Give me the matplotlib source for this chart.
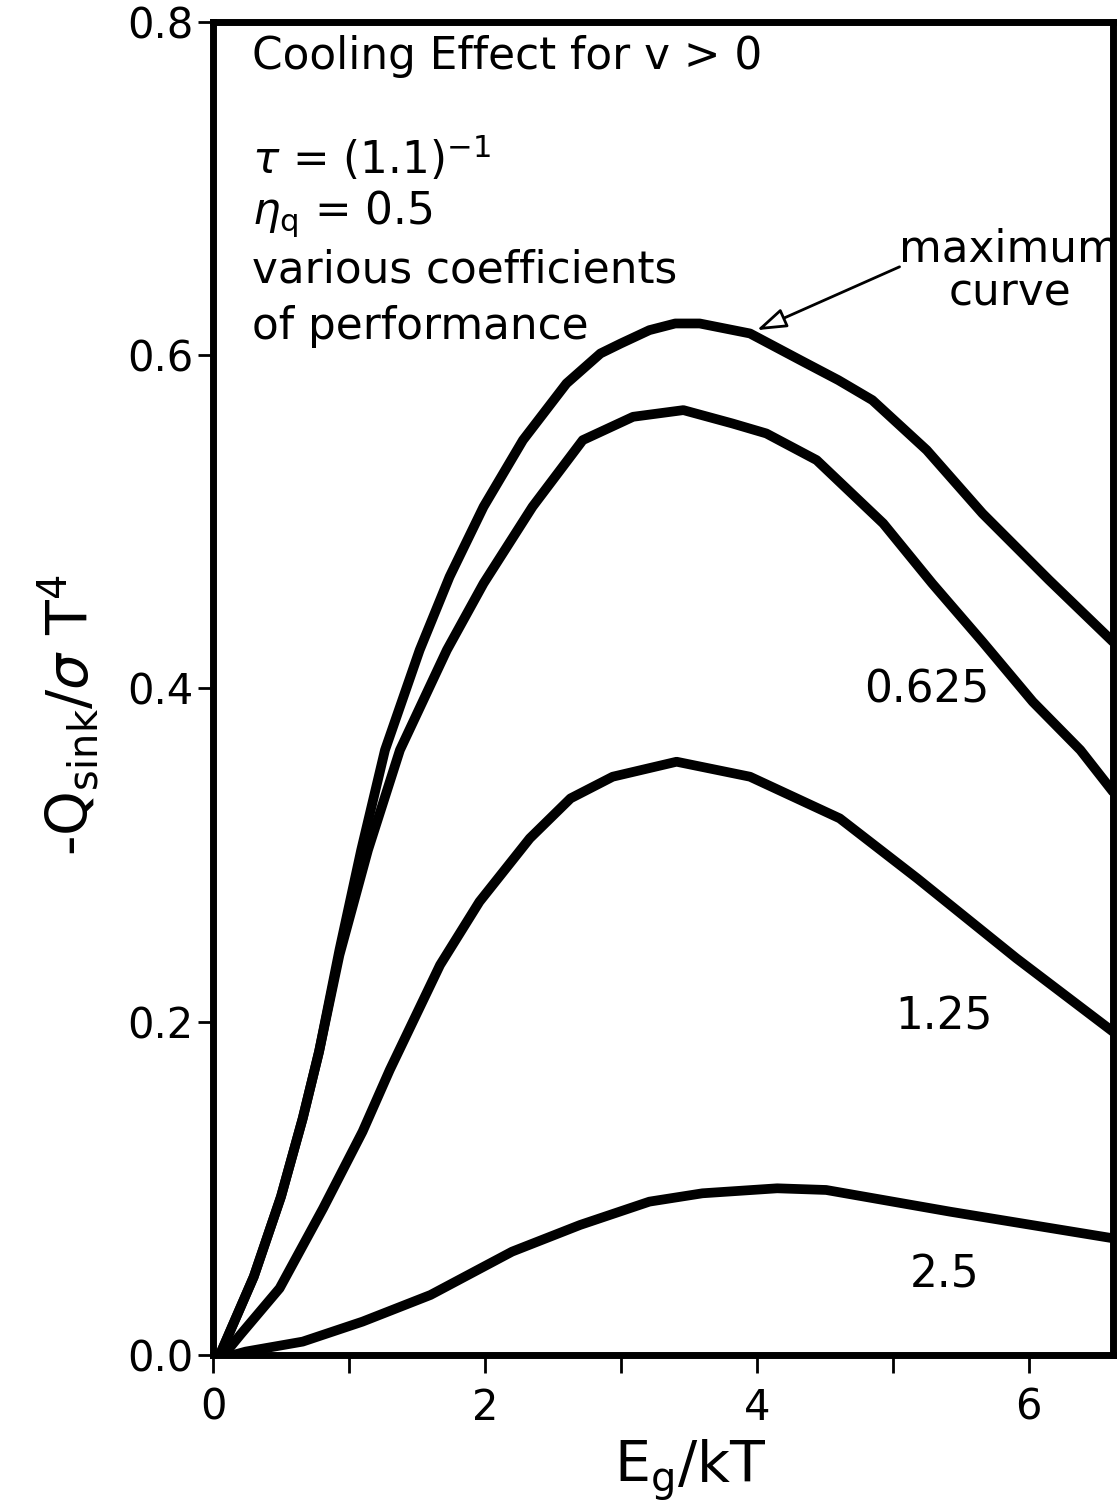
import numpy as np
import matplotlib.pyplot as plt

plt.rcParams['font.family'] = ['DejaVu Sans']
plt.rcParams['mathtext.fontset'] = 'dejavusans'

# curves: (Eg/kT, -Qsink/sigma T^4)
max_x = [0.05, 0.3, 0.5, 0.66, 0.78, 0.93, 1.09, 1.265, 1.52, 1.74, 1.99, 2.28, 2.6,
         2.85, 3.0, 3.21, 3.4, 3.58, 3.95, 4.32, 4.6, 4.85, 5.25, 5.66, 6.15, 6.62]
max_y = [0.0, 0.047, 0.095, 0.142, 0.182, 0.243, 0.303, 0.363, 0.423, 0.467, 0.509, 0.549, 0.583,
         0.601, 0.607, 0.615, 0.619, 0.619, 0.613, 0.597, 0.585, 0.573, 0.543, 0.505, 0.465, 0.428]

c0625_x = [0.05, 0.3, 0.5, 0.66, 0.78, 0.93, 1.14, 1.375, 1.72, 1.99, 2.35, 2.72, 3.09,
           3.46, 3.82, 4.07, 4.44, 4.93, 5.29, 5.66, 6.03, 6.38, 6.62]
c0625_y = [0.0, 0.047, 0.095, 0.142, 0.182, 0.24, 0.303, 0.363, 0.423, 0.463, 0.509, 0.549, 0.563,
           0.567, 0.559, 0.553, 0.537, 0.499, 0.463, 0.428, 0.392, 0.363, 0.338]

c125_x = [0.08, 0.2, 0.49, 0.81, 1.1, 1.3, 1.67, 1.96, 2.33, 2.63, 2.94, 3.41, 3.95,
          4.61, 5.18, 5.91, 6.62]
c125_y = [0.0, 0.012, 0.04, 0.088, 0.134, 0.171, 0.234, 0.272, 0.31, 0.334, 0.347, 0.356, 0.347,
          0.322, 0.286, 0.238, 0.194]

c25_x = [0.15, 0.24, 0.66, 1.1, 1.6, 2.2, 2.7, 3.21, 3.6, 4.15, 4.51, 5.42, 6.62]
c25_y = [0.0, 0.002, 0.008, 0.02, 0.036, 0.062, 0.078, 0.092, 0.097, 0.1, 0.099, 0.086, 0.07]

fig = plt.figure(figsize=(11.17, 15.08), dpi=100)
ax = fig.add_axes([0.1907, 0.1015, 0.8057, 0.884])

for xs, ys in [(max_x, max_y), (c0625_x, c0625_y), (c125_x, c125_y), (c25_x, c25_y)]:
    ax.plot(xs, ys, color='black', lw=7, solid_joinstyle='round', solid_capstyle='round')

ax.set_xlim(0, 6.62)
ax.set_ylim(0, 0.8)
ax.set_xticks(range(7))
ax.set_xticklabels(['0', '', '2', '', '4', '', '6'])
ax.set_yticks([0, 0.2, 0.4, 0.6, 0.8])
ax.set_yticklabels(['0.0', '0.2', '0.4', '0.6', '0.8'])
ax.tick_params(direction='out', length=11, width=2, labelsize=30, pad=3)
ax.tick_params(axis='x', length=13, pad=10)
for s in ax.spines.values():
    s.set_linewidth(5)

ax.set_xlabel(r'E$_{\mathregular{g}}$/kT', fontsize=41)
ax.xaxis.set_label_coords(0.53, -0.062)
ax.set_ylabel(r'-Q$_{\mathregular{sink}}$/$\sigma$ T$^{\mathregular{4}}$', fontsize=41)
ax.yaxis.set_label_coords(-0.125, 0.48)

fs = 31.5
ax.text(0.29, 0.779, 'Cooling Effect for v > 0', fontsize=fs, va='center')
ax.text(0.29, 0.718, r'$\tau$ = (1.1)$^{\mathregular{-1}}$', fontsize=fs, va='center')
ax.text(0.29, 0.685, r'$\eta_{\mathregular{q}}$ = 0.5', fontsize=fs, va='center')
ax.text(0.29, 0.651, 'various coefficients', fontsize=fs, va='center')
ax.text(0.29, 0.617, 'of performance', fontsize=fs, va='center')

ax.text(5.86, 0.651, 'maximum\ncurve', fontsize=fs, ha='center', va='center', linespacing=1.0)
ax.annotate('', xy=(4.0, 0.615), xytext=(5.05, 0.653),
            arrowprops=dict(arrowstyle='-|>,head_length=1.8,head_width=0.6', color='black',
                            lw=2, fc='white', shrinkA=0, shrinkB=0))

ax.text(5.25, 0.399, '0.625', fontsize=fs, ha='center', va='center')
ax.text(5.38, 0.203, '1.25', fontsize=fs, ha='center', va='center')
ax.text(5.38, 0.048, '2.5', fontsize=fs, ha='center', va='center')

fig.savefig('out.png', dpi=100)
